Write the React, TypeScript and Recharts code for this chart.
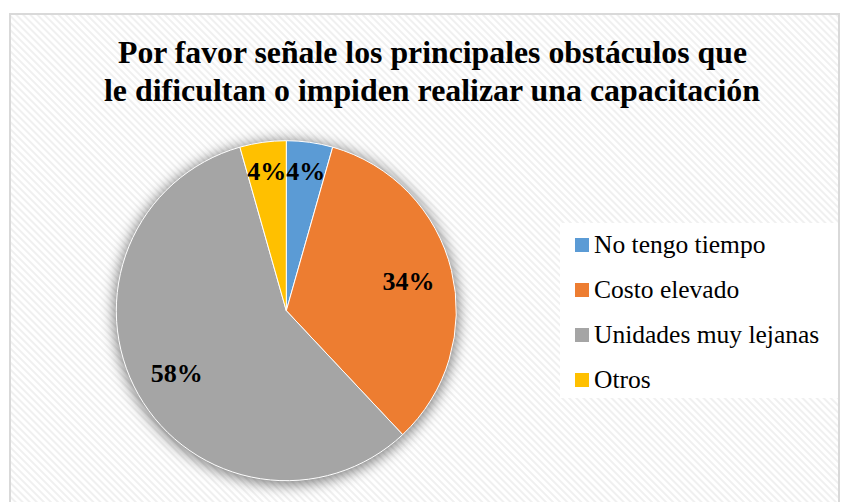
import React from 'react';
import { PieChart, Pie, Cell, Legend, Sector } from 'recharts';

const categories = ['No tengo tiempo', 'Costo elevado', 'Unidades muy lejanas', 'Otros'];
const values = [4.4, 33.6, 57.6, 4.4];
const colors = ['#5B9BD5', '#ED7D31', '#A5A5A5', '#FFC000'];
const titleLines = [
  'Por favor señale los principales obstáculos que',
  'le dificultan o impiden realizar una capacitación',
];

const data = categories.map((name, i) => ({ name, value: values[i] }));

const FONT = '"Liberation Serif", "Times New Roman", serif';
const W = 843;
const H = 502;
const CX = 286.3;
const CY = 310.7;
const R = 170;
const RAD = Math.PI / 180;

const renderLabel = (props: any) => {
  const { cx, cy, midAngle, outerRadius, percent } = props;
  const f = percent < 0.1 ? 0.83 : 0.74;
  const r = outerRadius * f;
  const x = cx + r * Math.cos(-midAngle * RAD);
  const y = cy + r * Math.sin(-midAngle * RAD);
  return (
    <text x={x} y={y + 9} textAnchor="middle" fill="#000" fontFamily={FONT} fontWeight={700} fontSize={26}>
      {`${Math.round(percent * 100)}%`}
    </text>
  );
};

const renderLegend = () => (
  <div style={{ position: 'relative', width: 278, height: 175, background: '#fff', fontFamily: FONT }}>
    {categories.map((c, i) => (
      <div
        key={c}
        style={{
          position: 'absolute',
          left: 15,
          top: 7 + i * 45,
          height: 30,
          display: 'flex',
          alignItems: 'center',
          fontFamily: FONT,
          fontSize: 25.5,
          color: '#000',
          whiteSpace: 'nowrap',
        }}
      >
        <span style={{ display: 'inline-block', width: 14, height: 14, background: colors[i], marginRight: 5 }} />
        <span>{c}</span>
      </div>
    ))}
  </div>
);

const glowShape = (props: any) => <Sector {...props} filter="url(#pieGlow)" />;

export default function App() {
  return (
    <div style={{ position: 'absolute', left: 0, top: 0, width: W, height: H, background: '#fff', overflow: 'hidden', fontFamily: FONT }}>
      <svg width={W} height={H} style={{ position: 'absolute', left: 0, top: 0 }}>
        <defs>
          <pattern id="hatch" width="5" height="5" patternUnits="userSpaceOnUse" patternTransform="rotate(-45)">
            <rect width="5" height="5" fill="#ffffff" />
            <rect width="2" height="5" fill="#f0f0f0" />
          </pattern>
          <filter id="pieGlow" x="-30%" y="-30%" width="160%" height="160%">
            <feGaussianBlur stdDeviation="7" />
          </filter>
        </defs>
        <rect x={10} y={14} width={829} height={500} fill="url(#hatch)" stroke="#d9d9d9" strokeWidth={2} />
        {titleLines.map((t, i) => (
          <text
            key={i}
            x={i === 0 ? 118 : 104}
            y={i === 0 ? 63.3 : 100.7}
            textLength={i === 0 ? 629 : 656}
            lengthAdjust="spacingAndGlyphs"
            fontFamily={FONT}
            fontWeight={700}
            fontSize={31}
            fill="#000"
          >
            {t}
          </text>
        ))}
      </svg>
      <div style={{ position: 'absolute', left: 0, top: 0 }}>
        <PieChart width={W} height={H} margin={{ top: 0, right: 0, bottom: 0, left: 0 }}>
          <Pie
            data={data}
            dataKey="value"
            nameKey="name"
            cx={CX}
            cy={CY + 2}
            outerRadius={R + 2}
            startAngle={90}
            endAngle={-270}
            stroke="none"
            legendType="none"
            shape={glowShape}
            isAnimationActive={false}
          >
            {data.map((d) => (
              <Cell key={d.name} fill="#000" fillOpacity={0.5} />
            ))}
          </Pie>
          <Pie
            data={data}
            dataKey="value"
            nameKey="name"
            cx={CX}
            cy={CY}
            outerRadius={R}
            startAngle={90}
            endAngle={-270}
            stroke="#ffffff"
            strokeWidth={1}
            label={renderLabel}
            labelLine={false}
            isAnimationActive={false}
          >
            {data.map((d, i) => (
              <Cell key={d.name} fill={colors[i]} />
            ))}
          </Pie>
          <Legend
            content={renderLegend}
            wrapperStyle={{ position: 'absolute', left: 560, top: 223, width: 278, height: 175 }}
          />
        </PieChart>
      </div>
    </div>
  );
}
